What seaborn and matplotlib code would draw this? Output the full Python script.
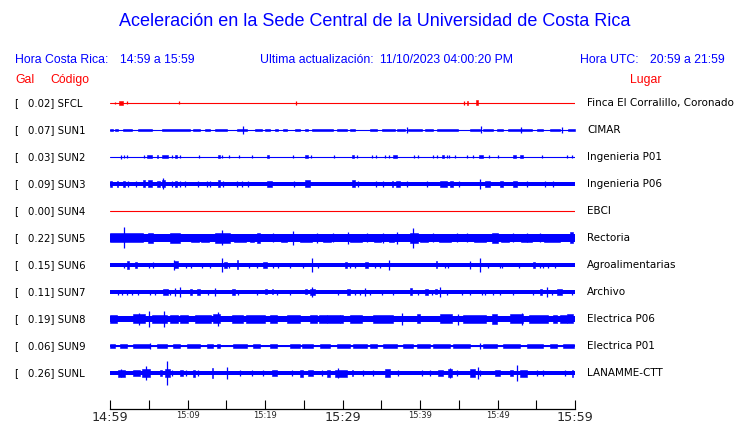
import matplotlib
matplotlib.use("Agg")
import matplotlib.pyplot as plt
import seaborn as sns
import numpy as np

# ---------------- data ----------------
codes = ["SFCL", "SUN1", "SUN2", "SUN3", "SUN4", "SUN5", "SUN6", "SUN7", "SUN8", "SUN9", "SUNL"]
gal_values = [0.02, 0.07, 0.03, 0.09, 0.00, 0.22, 0.15, 0.11, 0.19, 0.06, 0.26]
places = ["Finca El Corralillo, Coronado", "CIMAR", "Ingenieria P01", "Ingenieria P06", "EBCI",
          "Rectoria", "Agroalimentarias", "Archivo", "Electrica P06", "Electrica P01", "LANAMME-CTT"]
trace_colors = ["#ff0000", "#0000ff", "#0000ff", "#0000ff", "#ff0000", "#0000ff",
                "#0000ff", "#0000ff", "#0000ff", "#0000ff", "#0000ff"]
# half width of the background noise band (relative amplitude units)
base_widths = [0.0, 0.0, 0.0, 1.7, 0.0, 3.6, 1.8, 1.7, 3.0, 1.3, 2.0]

window_minutes = [0, 60]
tick_minutes = [0, 5, 10, 15, 20, 25, 30, 35, 40, 45, 50, 55, 60]
tick_labels = ["14:59", "", "15:09", "", "15:19", "", "15:29", "", "15:39", "", "15:49", "", "15:59"]
major_ticks = ["14:59", "15:29", "15:59"]

# events: (start minute, end minute, half amplitude); start == end -> single spike
sfcl_events = [(0.6, 0.6, 1), (1.2, 1.7, 2), (2.2, 2.2, 1.5), (8.9, 8.9, 1.5), (24.0, 24.0, 2),
               (45.7, 45.7, 2), (46.1, 46.2, 2), (47.2, 47.5, 2.5)]
sun1_events = [(0, 0.4, 1.3), (0.6, 1.0, 1.3), (1.7, 2.8, 1.3), (3.6, 5.4, 1.3), (6.7, 10.3, 1.3),
               (10.7, 11.6, 1.3), (12.3, 12.9, 1.3), (13.5, 15.1, 1.3), (16.4, 17.7, 1.3),
               (18.7, 19.6, 1.3), (20.0, 20.6, 1.3), (21.3, 21.7, 1.3), (22.3, 22.8, 1.3),
               (23.9, 24.5, 1.3), (25.2, 25.5, 1.3), (26.1, 28.8, 1.3), (29.3, 30.6, 1.3),
               (31.0, 31.6, 1.3), (33.5, 34.4, 1.3), (35.1, 36.8, 1.3), (37.0, 38.1, 1.3),
               (38.4, 40.2, 1.3), (40.6, 41.7, 1.3), (42.2, 44.9, 1.3), (46.4, 47.7, 1.3),
               (48.1, 49.4, 1.3), (49.9, 50.7, 1.3), (51.3, 54.4, 1.3), (55.1, 55.9, 1.3),
               (56.8, 58.1, 1.3), (59.1, 60, 1.3),
               (17.2, 17.2, 4), (38.3, 38.3, 3), (47.9, 47.9, 3.5), (53.0, 53.0, 3), (58.3, 58.3, 3)]
sun2_events = [(1.4, 1.4, 2), (1.8, 1.8, 1.5), (2.2, 2.2, 1.5), (4.4, 4.4, 1.5), (4.8, 5.4, 1.5),
               (6.1, 6.2, 1.5), (6.7, 7.5, 1.5), (8.0, 8.0, 1.5), (8.4, 8.6, 1.5), (9.0, 9.0, 1.5),
               (11.5, 11.5, 1.5), (13.9, 14.2, 1.5), (14.5, 14.5, 1.5), (15.4, 15.4, 1.5),
               (16.6, 16.6, 1.5), (18.3, 18.3, 1.5), (20.3, 20.5, 1.5), (23.6, 23.6, 1.5),
               (25.2, 25.5, 1.5), (25.9, 25.9, 1.5), (28.9, 28.9, 1.5), (31.2, 31.5, 1.5),
               (31.9, 31.9, 1.5), (33.8, 33.8, 1.5), (34.3, 34.3, 1.5), (35.5, 35.5, 1.5),
               (36.0, 36.0, 1.5), (36.5, 37.0, 1.5), (39.2, 39.2, 1.5), (39.7, 39.7, 1.5),
               (41.7, 41.7, 1.5), (42.2, 42.2, 1.5), (42.8, 43.1, 1.5), (43.5, 43.5, 1.5),
               (43.7, 43.7, 1.5), (44.5, 44.5, 1.5), (46.1, 46.1, 1.5), (46.8, 46.8, 1.5),
               (47.6, 48.1, 1.5), (48.9, 48.9, 1.5), (50.1, 50.1, 1.5), (52.0, 52.4, 1.5),
               (52.9, 53.3, 1.5), (55.7, 55.7, 1.5), (59.0, 59.0, 1.5), (59.6, 59.6, 1.5)]
sun3_events = [(0, 0.3, 3), (0.9, 1.0, 3), (1.7, 1.9, 3), (2.3, 2.3, 3), (3.4, 3.4, 3),
               (4.3, 4.5, 3.5), (4.9, 5.4, 3.5), (6.1, 6.5, 3), (6.7, 7.1, 3.5), (6.8, 6.8, 5.5),
               (8.0, 8.0, 3), (8.4, 8.6, 3), (9.0, 9.0, 3), (9.7, 9.7, 3), (11.4, 11.4, 3),
               (12.5, 12.5, 3), (12.9, 12.9, 3), (13.9, 14.2, 3.5), (14.6, 14.6, 3), (16.4, 16.4, 3),
               (17.0, 17.0, 3), (17.8, 17.8, 3), (20.3, 20.9, 3), (23.7, 23.7, 3),
               (25.2, 25.8, 3.5), (31.2, 31.6, 3.5), (32.0, 32.0, 3), (34.3, 34.3, 3), (35.2, 35.2, 3),
               (36.4, 36.5, 3), (36.9, 37.4, 3), (38.3, 38.3, 3), (40.9, 40.9, 3),
               (42.6, 43.5, 3), (43.9, 44.3, 3), (45.0, 45.0, 3), (47.7, 47.7, 5),
               (48.4, 49.0, 3), (50.3, 50.7, 3), (52.0, 52.5, 3), (53.8, 53.8, 3),
               (56.1, 56.1, 3), (57.2, 57.2, 3)]
sun4_events = []
sun5_events = [(0, 4.3, 4.5), (1.8, 1.8, 10.5), (4.9, 5.5, 5.3), (7.7, 9.0, 5.0), (10.5, 11.5, 4.3),
               (11.8, 12.8, 4.3), (13.5, 15.5, 5.3), (14.5, 14.5, 7.5), (16.0, 17.5, 4.3),
               (18.0, 18.6, 4.3), (19.0, 19.4, 5), (21.0, 21.0, 4.5), (22.0, 22.8, 4.3),
               (23.6, 23.6, 7), (24.5, 26.0, 4.3), (26.7, 26.7, 5), (27.5, 28.5, 4.3),
               (28.8, 28.8, 4.5), (30.7, 30.7, 6), (31.0, 32.5, 4.3), (33.2, 33.2, 4.5),
               (34.0, 35.0, 4.3), (35.2, 35.2, 5), (36.0, 36.6, 4.3), (37.0, 37.0, 6),
               (38.7, 39.7, 5.3), (39.1, 39.1, 10), (40.0, 41.0, 4.3), (41.7, 41.7, 4.5),
               (42.5, 44.0, 4.3), (44.8, 44.8, 4.5), (46.1, 46.1, 4.5), (47.0, 48.5, 4.3),
               (49.3, 50.1, 5.3), (50.5, 51.5, 4.3), (52.0, 52.0, 4.5), (53.0, 54.5, 4.3),
               (53.8, 53.8, 4.5), (55.5, 55.5, 4.5), (56.0, 58.0, 4.3), (59.4, 59.7, 5.5)]
sun6_events = [(1.8, 1.8, 2.5), (2.2, 2.5, 4), (3.2, 3.5, 3), (5.0, 5.0, 2.5), (5.5, 5.5, 3),
               (8.3, 8.8, 3.5), (8.3, 8.3, 5.5), (9.8, 9.8, 2.5), (10.5, 10.5, 2.5), (11.9, 11.9, 2.5),
               (12.9, 12.9, 2.5), (14.5, 14.5, 7), (14.7, 15.1, 3), (15.4, 15.4, 2.5),
               (16.4, 16.5, 4.5), (17.9, 17.9, 2.5), (19.0, 19.0, 2.5), (19.7, 20.3, 2.8),
               (21.0, 21.0, 2.5), (21.7, 21.7, 2.5), (23.2, 23.2, 2.5), (24.9, 24.9, 2.5),
               (26.1, 26.1, 7), (26.8, 26.8, 2.5), (30.3, 30.6, 3), (31.0, 31.0, 2.5),
               (31.6, 31.6, 2.5), (32.9, 33.3, 3), (34.2, 34.2, 2.5), (34.8, 34.8, 2.5),
               (36.0, 36.0, 5), (42.1, 42.2, 3.5), (43.2, 43.2, 2.5), (43.6, 43.6, 2.5),
               (46.5, 46.5, 4), (47.7, 47.7, 7), (48.8, 48.8, 2.5), (50.3, 50.3, 2.5),
               (50.6, 50.6, 2.5), (52.8, 52.8, 2.5), (54.6, 54.8, 3), (55.5, 55.5, 2.5),
               (55.9, 55.9, 2.5), (56.5, 56.5, 2.5), (57.4, 57.4, 2.5)]
sun7_events = [(1.0, 1.0, 2.5), (1.5, 1.5, 2.5), (2.2, 2.2, 2.5), (2.8, 2.8, 2.5), (3.6, 3.6, 2.5),
               (5.2, 5.2, 2.5), (5.8, 5.8, 2.5), (6.8, 7.5, 2.8), (7.7, 7.7, 2.5), (8.4, 8.4, 4),
               (9.0, 9.0, 5), (10.3, 10.6, 2.8), (11.2, 11.6, 2.8), (12.6, 12.6, 2.5), (13.5, 13.5, 4),
               (15.7, 16.1, 3.3), (16.5, 16.5, 2.5), (19.0, 19.0, 2.5), (20.0, 20.3, 2.5),
               (20.9, 21.0, 2.5), (21.5, 21.5, 2.5), (23.2, 23.2, 2.5), (25.2, 25.4, 2.5),
               (25.8, 26.5, 2.8), (26.1, 26.1, 5), (29.4, 29.4, 2.5), (30.6, 31.0, 2.8),
               (31.6, 31.6, 2.5), (32.3, 32.3, 2.5), (32.9, 32.9, 4), (33.5, 33.5, 2.5),
               (35.1, 35.1, 2.5), (36.5, 36.5, 2.5), (38.7, 39.0, 3.5), (39.7, 39.7, 2.5),
               (40.6, 41.0, 2.8), (41.5, 41.5, 2.5), (41.9, 42.2, 2.5), (42.6, 42.6, 5),
               (43.5, 43.5, 2.5), (45.4, 45.4, 2.5), (46.5, 46.5, 2.5), (48.0, 48.0, 2.5),
               (48.4, 48.4, 2.5), (49.4, 49.4, 2.5), (50.3, 50.3, 2.5), (52.0, 52.0, 2.5),
               (54.6, 54.6, 2.5), (55.5, 55.7, 2.8), (56.4, 56.4, 5), (57.0, 57.0, 2.5),
               (57.7, 58.3, 2.8), (59.6, 59.6, 2.5)]
sun8_events = [(0, 0.9, 4.3), (3.0, 4.5, 4.5), (3.7, 3.7, 6), (5.0, 5.0, 8), (5.4, 7.4, 4.3),
               (7.0, 7.0, 8), (7.7, 8.8, 4), (9.0, 10.1, 4.3), (11.0, 13.0, 3.8), (13.3, 14.2, 4.5),
               (13.9, 13.9, 7), (15.7, 17.2, 3.8), (17.5, 20.0, 3.8), (20.6, 21.5, 4), (22.8, 24.5, 3.8),
               (25.8, 26.7, 4.3), (27.0, 28.0, 3.8), (28.0, 29.7, 4.3), (29.7, 30.1, 4),
               (31.0, 32.5, 4.3), (33.9, 36.5, 3.8), (37.7, 37.7, 6), (39.6, 40.0, 4.5),
               (42.6, 44.1, 4.5), (44.9, 44.9, 5.5), (45.5, 48.5, 3.8), (49.3, 49.9, 5),
               (51.6, 53.3, 4.5), (53.2, 53.2, 6), (54.0, 56.5, 3.8), (57.2, 57.7, 4.3),
               (58.0, 59.0, 3.8), (59.0, 59.7, 4.5)]
sun9_events = [(0, 0.6, 1.8), (1.3, 2.2, 1.8), (3.0, 5.2, 1.8), (5.2, 5.2, 3), (6.1, 7.4, 1.8),
               (8.1, 9.0, 1.8), (9.9, 11.6, 1.8), (12.5, 13.3, 1.8), (13.8, 14.2, 1.8), (15.9, 17.7, 1.8),
               (18.5, 19.4, 1.8), (20.6, 21.5, 1.8), (23.2, 24.5, 1.8), (24.8, 26.2, 1.8),
               (27.1, 28.4, 1.8), (29.3, 31.0, 1.8), (31.4, 33.2, 1.8), (33.5, 34.5, 1.8),
               (35.2, 37.0, 1.8), (37.8, 39.1, 1.8), (39.6, 41.3, 1.8), (41.7, 43.9, 1.8),
               (44.3, 46.5, 1.8), (47.7, 47.7, 3), (48.1, 49.9, 1.8), (50.7, 52.9, 1.8),
               (53.8, 55.9, 1.8), (56.8, 57.7, 1.8), (58.5, 59.9, 1.8)]
sunl_events = [(1.0, 1.9, 3.5), (1.4, 1.4, 4.5), (3.0, 3.9, 3), (4.1, 5.2, 4.0), (4.6, 4.6, 7),
               (6.5, 6.7, 3), (7.1, 7.7, 4), (7.4, 7.4, 12), (8.0, 8.0, 3), (9.0, 9.4, 3),
               (9.8, 9.8, 3), (10.7, 11.0, 3.5), (11.4, 11.4, 3), (13.2, 13.3, 5), (15.1, 15.1, 6),
               (16.8, 16.8, 3), (18.3, 18.3, 3), (19.7, 19.7, 3), (20.9, 21.5, 3), (23.5, 23.5, 3),
               (24.5, 24.9, 3.5), (25.5, 26.2, 3), (27.4, 27.4, 3), (28.0, 28.4, 3.5),
               (29.0, 30.6, 3.5), (29.4, 29.4, 5), (31.2, 31.4, 3), (32.6, 32.6, 3), (33.9, 33.9, 3),
               (35.5, 36.1, 4), (37.2, 37.2, 3), (40.3, 40.3, 3), (41.3, 41.3, 3), (42.3, 43.0, 3),
               (43.6, 44.1, 4), (43.9, 43.9, 5), (44.8, 44.8, 3), (46.5, 47.1, 4),
               (47.5, 47.5, 6), (47.7, 47.7, 3), (49.7, 50.3, 3), (51.6, 52.0, 3), (52.5, 52.5, 8),
               (52.9, 53.8, 3.5), (55.1, 55.1, 3), (55.9, 55.9, 3), (58.7, 58.7, 3), (59.6, 59.7, 3.5)]

trace_events = [sfcl_events, sun1_events, sun2_events, sun3_events, sun4_events, sun5_events,
                sun6_events, sun7_events, sun8_events, sun9_events, sunl_events]

# ---------------- layout ----------------
W, H = 740, 423
ROW = 27.0  # pixels between traces; amplitudes are scaled by this

sns.set_style("white")
plt.rcParams["font.family"] = ["DejaVu Sans"]

fig = plt.figure(figsize=(W / 100, H / 100), dpi=100)
ax = fig.add_axes([110 / W, 14 / H, 465 / W, (409 - 90) / H])
ax.set_xlim(window_minutes[0], window_minutes[1])
ax.set_ylim((409 - 103) / ROW, (90 - 103) / ROW)

for i, (col, base, events) in enumerate(zip(trace_colors, base_widths, trace_events)):
    sns.lineplot(x=window_minutes, y=[i, i], ax=ax, color=col, lw=0.8)
    if base > 0:
        ax.fill_between(window_minutes, i - base / ROW, i + base / ROW, color=col, lw=0)
    for s, e, h in events:
        if e <= s:
            ax.vlines(s, i - h / ROW, i + h / ROW, color=col, lw=0.9)
        else:
            ax.fill_between([s, e], i - h / ROW, i + h / ROW, color=col, lw=0.4, edgecolor=col)

for side in ["top", "left", "right"]:
    ax.spines[side].set_visible(False)
ax.spines["bottom"].set_color("black")
ax.spines["bottom"].set_linewidth(0.9)
ax.set_yticks([])
ax.set_xticks(tick_minutes)
ax.set_xticklabels(tick_labels)
ax.tick_params(axis="x", bottom=True, direction="in", length=6.6, width=0.8,
               color="black", pad=1.5)
for lab in ax.get_xticklabels():
    if lab.get_text() in major_ticks:
        lab.set_fontsize(9.2)
    else:
        lab.set_fontsize(6)
ax.set_xlabel("")
ax.set_ylabel("")
ax.set_facecolor("white")


def px(x, y):
    return x / W, 1 - y / H


blue = "#0000ff"
red = "#ff0000"
hdr = ["Liberation Sans", "DejaVu Sans"]

fig.text(*px(375, 22), "Aceleración en la Sede Central de la Universidad de Costa Rica",
         ha="center", va="center", color=blue, fontsize=13, family=hdr)
fig.text(*px(15, 60), "Hora Costa Rica:", ha="left", va="center", color=blue, fontsize=8.8, family=hdr)
fig.text(*px(120, 60), "14:59 a 15:59", ha="left", va="center", color=blue, fontsize=8.8, family=hdr)
fig.text(*px(260, 60), "Ultima actualización:", ha="left", va="center", color=blue, fontsize=8.8, family=hdr)
fig.text(*px(380, 60), "11/10/2023 04:00:20 PM", ha="left", va="center", color=blue, fontsize=8.8, family=hdr)
fig.text(*px(580, 60), "Hora UTC:", ha="left", va="center", color=blue, fontsize=8.8, family=hdr)
fig.text(*px(650, 60), "20:59 a 21:59", ha="left", va="center", color=blue, fontsize=8.8, family=hdr)
fig.text(*px(15, 80), "Gal", ha="left", va="center", color=red, fontsize=8.8, family=hdr)
fig.text(*px(50, 80), "Código", ha="left", va="center", color=red, fontsize=8.8, family=hdr)
fig.text(*px(630, 80), "Lugar", ha="left", va="center", color=red, fontsize=8.8, family=hdr)

for i, (code, g, place) in enumerate(zip(codes, gal_values, places)):
    yy = 103 + ROW * i
    fig.text(*px(14, yy), "[", ha="left", va="center", color="black", fontsize=7.3)
    fig.text(*px(28, yy), f"{g:.2f}] {code}", ha="left", va="center", color="black", fontsize=7.3)
    fig.text(*px(587, yy), place, ha="left", va="center", color="black", fontsize=7.5)

fig.savefig("out.png", dpi=100, facecolor="white")
